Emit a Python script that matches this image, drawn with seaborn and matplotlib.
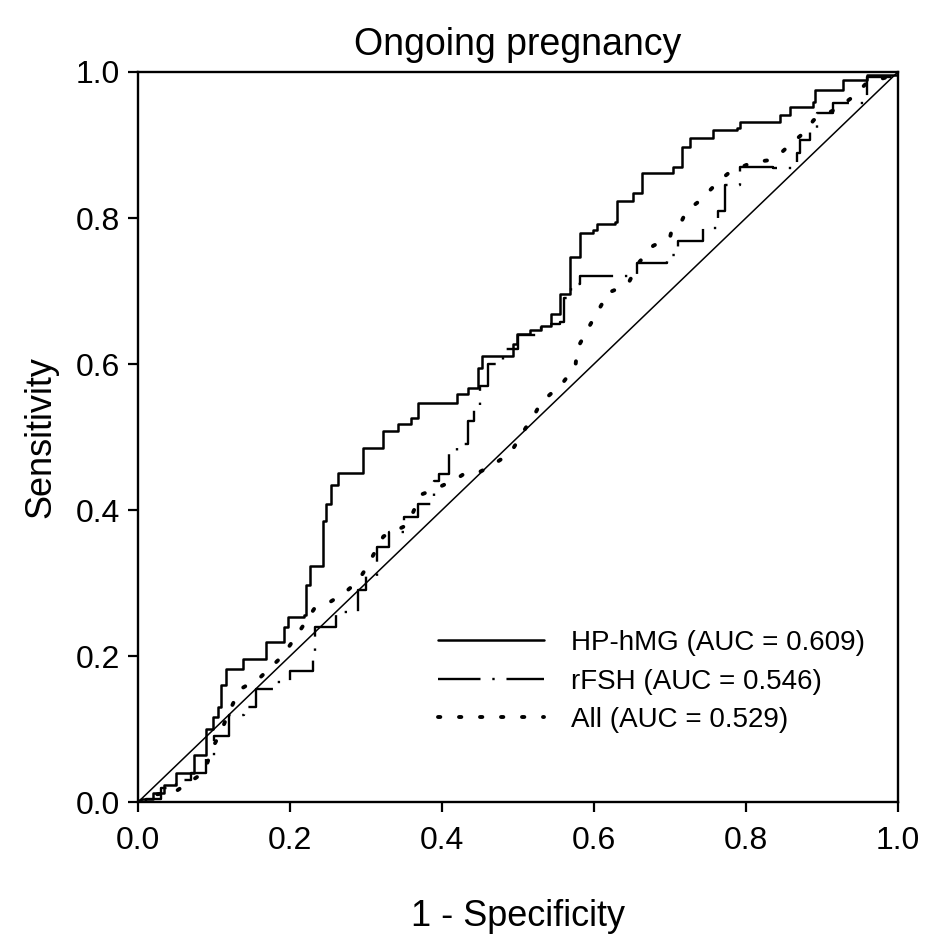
import matplotlib
matplotlib.use("Agg")
import matplotlib.pyplot as plt
import seaborn as sns

# ROC points (1 - specificity, sensitivity)
hmg_fpr = [0.0, 0.004, 0.02, 0.034, 0.05, 0.074, 0.089, 0.089, 0.099, 0.105, 0.109, 0.109,
           0.116, 0.138, 0.138, 0.166, 0.168, 0.192, 0.192, 0.198, 0.218, 0.221, 0.227,
           0.243, 0.243, 0.247, 0.254, 0.254, 0.263, 0.289, 0.296, 0.323, 0.342, 0.359,
           0.369, 0.415, 0.420, 0.434, 0.447, 0.453, 0.481, 0.493, 0.499, 0.516, 0.530,
           0.543, 0.556, 0.569, 0.569, 0.582, 0.599, 0.604, 0.628, 0.630, 0.652, 0.663,
           0.704, 0.716, 0.727, 0.757, 0.788, 0.792, 0.845, 0.858, 0.888, 0.891, 0.928,
           0.959, 1.0]
hmg_tpr = [0.0, 0.005, 0.012, 0.023, 0.04, 0.064, 0.082, 0.10, 0.117, 0.13, 0.141, 0.16,
           0.183, 0.183, 0.196, 0.196, 0.220, 0.222, 0.24, 0.254, 0.257, 0.298, 0.323,
           0.325, 0.385, 0.408, 0.426, 0.435, 0.451, 0.451, 0.485, 0.508, 0.518, 0.526,
           0.547, 0.547, 0.559, 0.567, 0.595, 0.611, 0.611, 0.628, 0.641, 0.646, 0.652,
           0.669, 0.696, 0.714, 0.746, 0.779, 0.783, 0.792, 0.794, 0.824, 0.834, 0.861,
           0.870, 0.897, 0.909, 0.920, 0.923, 0.931, 0.941, 0.952, 0.959, 0.975, 0.989,
           0.996, 1.0]

rfsh_fpr = [0.0, 0.01, 0.03, 0.05, 0.07, 0.09, 0.10, 0.12, 0.14, 0.155, 0.179, 0.20, 0.23,
            0.233, 0.26, 0.29, 0.30, 0.315, 0.33, 0.35, 0.368, 0.39, 0.396, 0.409, 0.409,
            0.42, 0.434, 0.434, 0.442, 0.45, 0.46, 0.48, 0.50, 0.53, 0.556, 0.56, 0.57,
            0.582, 0.632, 0.657, 0.696, 0.710, 0.744, 0.763, 0.773, 0.792, 0.836, 0.867,
            0.871, 0.884, 0.894, 0.915, 0.959, 1.0]
rfsh_tpr = [0.0, 0.005, 0.02, 0.03, 0.04, 0.06, 0.09, 0.12, 0.13, 0.155, 0.165, 0.18, 0.20,
            0.24, 0.26, 0.29, 0.31, 0.35, 0.37, 0.39, 0.409, 0.44, 0.449, 0.46, 0.478,
            0.49, 0.504, 0.522, 0.540, 0.57, 0.60, 0.62, 0.64, 0.655, 0.657, 0.69, 0.71,
            0.721, 0.721, 0.738, 0.749, 0.769, 0.787, 0.810, 0.845, 0.870, 0.868, 0.889,
            0.907, 0.92, 0.944, 0.957, 0.993, 1.0]

all_fpr = [0.0, 0.02, 0.05, 0.087, 0.093, 0.100, 0.109, 0.118, 0.126, 0.135, 0.16, 0.19,
           0.21, 0.232, 0.254, 0.271, 0.289, 0.300, 0.323, 0.341, 0.355, 0.372, 0.389,
           0.418, 0.431, 0.451, 0.464, 0.490, 0.514, 0.523, 0.530, 0.543, 0.556, 0.566,
           0.576, 0.578, 0.593, 0.611, 0.615, 0.631, 0.645, 0.66, 0.678, 0.700, 0.703,
           0.716, 0.722, 0.736, 0.746, 0.766, 0.779, 0.808, 0.829, 0.847, 0.862, 0.880,
           0.889, 0.92, 0.941, 0.959, 0.986, 1.0]
all_tpr = [0.0, 0.01, 0.015, 0.041, 0.059, 0.078, 0.096, 0.119, 0.137, 0.155, 0.17, 0.20,
           0.23, 0.265, 0.275, 0.286, 0.302, 0.320, 0.364, 0.373, 0.380, 0.421, 0.428,
           0.442, 0.451, 0.453, 0.460, 0.478, 0.519, 0.533, 0.547, 0.559, 0.570, 0.584,
           0.600, 0.621, 0.650, 0.683, 0.696, 0.703, 0.710, 0.74, 0.762, 0.773, 0.786,
           0.797, 0.810, 0.821, 0.831, 0.852, 0.863, 0.876, 0.879, 0.890, 0.904, 0.920,
           0.934, 0.95, 0.966, 0.985, 0.993, 1.0]

labels = ["HP-hMG (AUC = 0.609)", "rFSH (AUC = 0.546)", "All (AUC = 0.529)"]
ticks = [0.0, 0.2, 0.4, 0.6, 0.8, 1.0]

sns.set_style("ticks")
plt.rcParams["font.family"] = ["Liberation Sans", "DejaVu Sans"]
plt.rcParams["text.color"] = "black"
plt.rcParams["axes.labelcolor"] = "black"
plt.rcParams["xtick.color"] = "black"
plt.rcParams["ytick.color"] = "black"

fig = plt.figure(figsize=(9.29, 9.41), dpi=100)
ax = fig.add_axes([0.1485, 0.1475, 0.818, 0.776])

# chance diagonal
sns.lineplot(x=[0, 1], y=[0, 1], color="black", linewidth=1.1, ax=ax)

sns.lineplot(x=hmg_fpr, y=hmg_tpr, sort=False, estimator=None, color="black",
             linewidth=1.8, drawstyle="steps-post", label=labels[0], ax=ax)
sns.lineplot(x=rfsh_fpr, y=rfsh_tpr, sort=False, estimator=None, color="black",
             linewidth=1.7, drawstyle="steps-post", label=labels[1], ax=ax)
sns.lineplot(x=all_fpr, y=all_tpr, sort=False, estimator=None, color="black",
             linewidth=2.8, label=labels[2], ax=ax)

lines = ax.get_lines()
lines[2].set_linestyle((0, (18, 5, 1, 5)))
lines[3].set_linestyle((0, (0.6, 4.8)))
lines[3].set_dash_capstyle("round")

ax.set_xlim(0, 1)
ax.set_ylim(0, 1)
ax.set_xticks(ticks)
ax.set_yticks(ticks)
ax.set_xticklabels([f"{t:.1f}" for t in ticks])
ax.set_yticklabels([f"{t:.1f}" for t in ticks])
ax.tick_params(labelsize=23, length=7, width=1.6, pad=6)
ax.tick_params(axis="x", pad=10)
for s in ax.spines.values():
    s.set_visible(True)
    s.set_linewidth(1.7)
    s.set_color("black")

ax.set_title("Ongoing pregnancy", fontsize=27, pad=12)
ax.set_xlabel("1 - Specificity", fontsize=26, labelpad=31)
ax.set_ylabel("Sensitivity", fontsize=26, labelpad=12)

leg = ax.legend(loc="center left", bbox_to_anchor=(0.395, 0.165), frameon=False,
                fontsize=20, handlelength=3.8, handletextpad=1.0, labelspacing=0.45,
                borderpad=0, borderaxespad=0)

fig.savefig("out.png", dpi=100)
